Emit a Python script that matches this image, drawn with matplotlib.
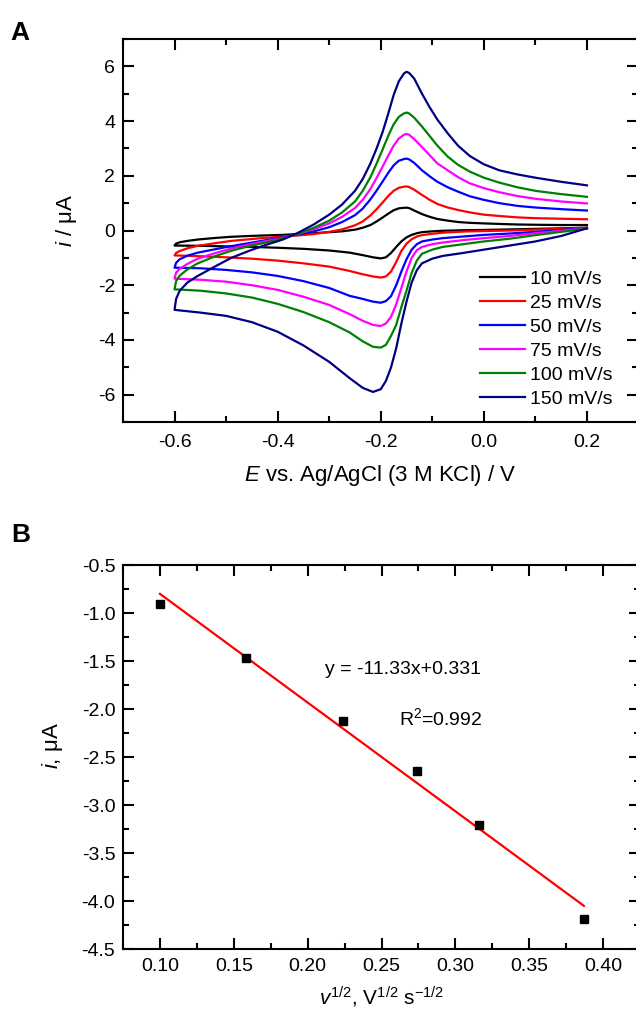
import numpy as np
import matplotlib
matplotlib.use('Agg')
import matplotlib.pyplot as plt
from matplotlib.ticker import MultipleLocator, FormatStrFormatter

plt.rcParams['font.family'] = ['Liberation Sans', 'DejaVu Sans']
plt.rcParams['mathtext.fontset'] = 'custom'
plt.rcParams['mathtext.rm'] = 'Liberation Sans'
plt.rcParams['mathtext.it'] = 'Liberation Sans:italic'
plt.rcParams['axes.unicode_minus'] = False

# ---- panel A: cyclic voltammograms ----
labels = ['10 mV/s', '25 mV/s', '50 mV/s', '75 mV/s', '100 mV/s', '150 mV/s']
colors = ['black', '#ff0000', '#0000ff', '#ff00ff', '#008000', '#000080']

# reverse (cathodic) sweep, 0.2 -> -0.6 V
E_rev = [0.2, 0.15, 0.1, 0.05, 0.0, -0.04, -0.08, -0.1, -0.12, -0.13, -0.14, -0.15, -0.16,
         -0.17, -0.18, -0.19, -0.2, -0.215, -0.235, -0.26, -0.3, -0.35, -0.4, -0.45, -0.5,
         -0.55, -0.6]
i_rev_10 = [0.1, 0.08, 0.06, 0.04, 0.02, 0.01, -0.01, -0.03, -0.06, -0.1, -0.16, -0.25, -0.4,
            -0.6, -0.82, -0.98, -1.02, -0.98, -0.9, -0.81, -0.73, -0.67, -0.63, -0.6, -0.58,
            -0.56, -0.55]
i_rev_25 = [0.1, 0.06, 0.03, 0.0, -0.02, -0.04, -0.08, -0.12, -0.17, -0.22, -0.32, -0.48, -0.75,
            -1.15, -1.5, -1.68, -1.72, -1.68, -1.6, -1.48, -1.32, -1.2, -1.1, -1.03, -0.98,
            -0.94, -0.91]
i_rev_50 = [0.09, 0.02, -0.05, -0.11, -0.16, -0.22, -0.28, -0.33, -0.4, -0.5, -0.7, -1.05, -1.5,
            -2.0, -2.4, -2.58, -2.64, -2.6, -2.5, -2.39, -2.1, -1.85, -1.66, -1.53, -1.44,
            -1.38, -1.36]
i_rev_75 = [0.08, -0.01, -0.1, -0.2, -0.28, -0.35, -0.44, -0.5, -0.6, -0.72, -1.0, -1.5, -2.1,
            -2.7, -3.15, -3.4, -3.49, -3.45, -3.3, -3.06, -2.72, -2.42, -2.17, -2.0, -1.87,
            -1.8, -1.76]
i_rev_100 = [0.07, -0.05, -0.17, -0.3, -0.4, -0.5, -0.6, -0.7, -0.85, -1.1, -1.55, -2.2, -2.8,
             -3.45, -3.85, -4.18, -4.28, -4.25, -4.05, -3.73, -3.35, -2.98, -2.68, -2.45, -2.3,
             -2.2, -2.15]
i_rev_150 = [0.08, -0.2, -0.4, -0.55, -0.7, -0.82, -0.93, -1.03, -1.2, -1.45, -1.9, -2.6, -3.4,
             -4.3, -5.0, -5.5, -5.8, -5.9, -5.75, -5.4, -4.8, -4.2, -3.7, -3.35, -3.12,
             -3.0, -2.9]

# forward (anodic) sweep, -0.6 -> 0.2 V
E_fwd = [-0.6, -0.597, -0.59, -0.575, -0.555, -0.52, -0.49, -0.455, -0.425, -0.39, -0.36,
         -0.33, -0.3, -0.275, -0.25, -0.235, -0.22, -0.208, -0.196, -0.185, -0.175, -0.165,
         -0.155, -0.15, -0.145, -0.135, -0.12, -0.105, -0.09, -0.07, -0.05, -0.027, 0.0, 0.03,
         0.065, 0.1, 0.15, 0.2]
i_fwd_10 = [-0.55, -0.48, -0.43, -0.38, -0.33, -0.27, -0.23, -0.2, -0.18, -0.16, -0.13, -0.1,
            -0.06, -0.03, 0.03, 0.1, 0.2, 0.33, 0.48, 0.62, 0.74, 0.81, 0.83, 0.835, 0.82,
            0.73, 0.6, 0.5, 0.42, 0.36, 0.31, 0.28, 0.26, 0.24, 0.22, 0.21, 0.2, 0.2]
i_fwd_25 = [-0.91, -0.82, -0.75, -0.65, -0.56, -0.46, -0.38, -0.32, -0.27, -0.22, -0.18, -0.13,
            -0.05, 0.04, 0.19, 0.33, 0.55, 0.78, 1.03, 1.27, 1.45, 1.56, 1.6, 1.61, 1.59, 1.49,
            1.3, 1.12, 0.97, 0.84, 0.75, 0.66, 0.58, 0.53, 0.48, 0.45, 0.43, 0.41]
i_fwd_50 = [-1.36, -1.18, -1.05, -0.92, -0.81, -0.68, -0.57, -0.46, -0.36, -0.25, -0.14, -0.03,
            0.12, 0.31, 0.56, 0.8, 1.14, 1.46, 1.8, 2.12, 2.38, 2.55, 2.61, 2.63, 2.6, 2.47,
            2.2, 1.98, 1.78, 1.58, 1.42, 1.25, 1.12, 1.0, 0.9, 0.84, 0.78, 0.73]
i_fwd_75 = [-1.76, -1.54, -1.4, -1.22, -1.03, -0.82, -0.66, -0.51, -0.4, -0.27, -0.12, 0.05,
            0.26, 0.5, 0.82, 1.12, 1.52, 1.92, 2.35, 2.75, 3.1, 3.36, 3.5, 3.53, 3.5, 3.34,
            3.05, 2.75, 2.45, 2.2, 1.95, 1.72, 1.55, 1.4, 1.26, 1.16, 1.06, 0.99]
i_fwd_100 = [-2.15, -1.85, -1.65, -1.42, -1.2, -0.93, -0.74, -0.57, -0.45, -0.29, -0.12, 0.1,
             0.36, 0.66, 1.06, 1.45, 1.95, 2.45, 2.98, 3.48, 3.88, 4.15, 4.28, 4.31, 4.28, 4.12,
             3.8, 3.45, 3.1, 2.7, 2.4, 2.15, 1.93, 1.75, 1.58, 1.45, 1.33, 1.23]
i_fwd_150 = [-2.9, -2.5, -2.2, -1.9, -1.66, -1.3, -1.0, -0.74, -0.54, -0.33, -0.08, 0.22, 0.58,
             0.95, 1.45, 1.88, 2.45, 3.0, 3.62, 4.3, 4.95, 5.45, 5.74, 5.8, 5.76, 5.55, 5.0,
             4.5, 4.05, 3.55, 3.1, 2.72, 2.42, 2.2, 2.05, 1.93, 1.78, 1.65]

i_rev = [i_rev_10, i_rev_25, i_rev_50, i_rev_75, i_rev_100, i_rev_150]
i_fwd = [i_fwd_10, i_fwd_25, i_fwd_50, i_fwd_75, i_fwd_100, i_fwd_150]

# ---- panel B: peak current vs sqrt(scan rate) ----
sqrt_v = [0.1, 0.158, 0.224, 0.274, 0.316, 0.387]
i_peak = [-0.91, -1.47, -2.12, -2.65, -3.21, -4.19]
fit_x = [0.1, 0.387]
fit_y = [-0.80, -4.05]
eq_text = 'y = -11.33x+0.331'
r2_text = 'R$^2$=0.992'


def style_axes(ax, xpad):
    for sp in ax.spines.values():
        sp.set_linewidth(1.5)
    ax.tick_params(which='both', direction='in', top=True, right=True, width=1.5,
                   labelsize=14)
    ax.tick_params(axis='y', pad=5.5)
    ax.tick_params(axis='x', pad=xpad)
    ax.tick_params(which='major', length=8)
    ax.tick_params(which='minor', length=4.5)


fig = plt.figure(figsize=(6.36, 10.15), dpi=100)

axA = fig.add_axes([0.1934, 0.5842, 0.8105, 0.3774])
for ir, fw, c, lab in zip(i_rev, i_fwd, colors, labels):
    axA.plot(E_rev + E_fwd, ir + fw, color=c, lw=1.6, label=lab)
axA.set_xlim(-0.7, 0.3)
axA.set_ylim(-7, 7)
axA.xaxis.set_major_locator(MultipleLocator(0.2))
axA.xaxis.set_minor_locator(MultipleLocator(0.1))
axA.yaxis.set_major_locator(MultipleLocator(2))
axA.yaxis.set_minor_locator(MultipleLocator(1))
axA.xaxis.set_major_formatter(FormatStrFormatter('%.1f'))
style_axes(axA, 8.5)
axA.set_xlabel(r'$\it{E}$ vs. Ag/AgCl (3 M KCl) / V', fontsize=16, labelpad=9)
axA.set_ylabel(r'$\it{i}$ / μA', fontsize=16)
axA.yaxis.set_label_coords(-0.085, 0.527)
axA.legend(loc='upper left', bbox_to_anchor=(0.6925, 0.397), frameon=False, fontsize=14,
           handlelength=2.3, handletextpad=0.26, labelspacing=0.33, borderpad=0,
           borderaxespad=0)

axB = fig.add_axes([0.1934, 0.0650, 0.8129, 0.3783])
axB.plot(fit_x, fit_y, color='#ff0000', lw=1.6)
axB.plot(sqrt_v, i_peak, 's', color='black', ms=5.5)
axB.set_xlim(0.075, 0.425)
axB.set_ylim(-4.5, -0.5)
axB.xaxis.set_major_locator(MultipleLocator(0.05))
axB.xaxis.set_minor_locator(MultipleLocator(0.025))
axB.yaxis.set_major_locator(MultipleLocator(0.5))
axB.yaxis.set_minor_locator(MultipleLocator(0.25))
axB.xaxis.set_major_formatter(FormatStrFormatter('%.2f'))
axB.yaxis.set_major_formatter(FormatStrFormatter('%.1f'))
style_axes(axB, 6.5)
axB.set_xlabel(r'$\it{v}^{1/2}$, V$^{1/2}$ s$^{-1/2}$', fontsize=15, labelpad=7)
axB.set_ylabel(r'$\it{i}$, μA', fontsize=16)
axB.yaxis.set_label_coords(-0.112, 0.531)
axB.text(0.391, 0.727, eq_text, transform=axB.transAxes, fontsize=14, va='center')
axB.text(0.534, 0.602, r2_text, transform=axB.transAxes, fontsize=14, va='center')

fig.text(0.017, 1 - 21 / 1015, 'A', fontsize=19, fontweight='bold', va='top')
fig.text(0.017, 1 - 523 / 1015, 'B', fontsize=19, fontweight='bold', va='top')

fig.savefig('out.png', dpi=100)
